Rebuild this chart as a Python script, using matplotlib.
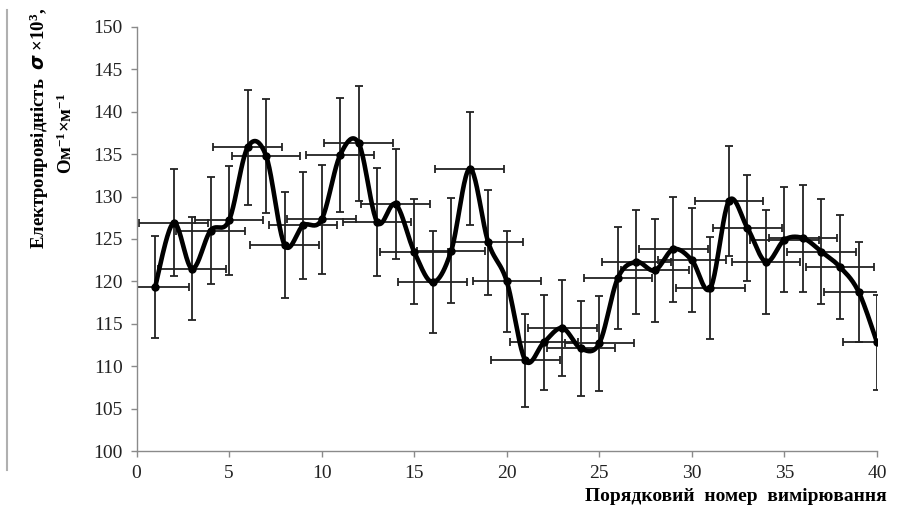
import numpy as np
import matplotlib.pyplot as plt
from matplotlib.lines import Line2D

plt.rcParams['font.family'] = ['Liberation Serif', 'DejaVu Serif']
plt.rcParams['mathtext.fontset'] = 'custom'
plt.rcParams['mathtext.rm'] = 'Liberation Serif'
plt.rcParams['mathtext.it'] = 'Liberation Serif:italic'
plt.rcParams['mathtext.bf'] = 'Liberation Serif:bold'

# порядковий номер вимірювання та електропровідність
n = np.arange(1, 41)
sigma = [119.3, 126.9, 121.5, 126.0, 127.2, 135.8, 134.8, 124.3, 126.6, 127.3,
         134.9, 136.3, 127.0, 129.1, 123.5, 119.9, 123.6, 133.3, 124.6, 120.0,
         110.7, 112.8, 114.5, 112.1, 112.7, 120.4, 122.3, 121.3, 123.8, 122.5,
         119.2, 129.5, 126.3, 122.3, 124.9, 125.1, 123.5, 121.7, 118.8, 112.8]
sigma_err = [6.0, 6.3, 6.1, 6.3, 6.4, 6.8, 6.7, 6.2, 6.3, 6.4,
             6.7, 6.8, 6.4, 6.5, 6.2, 6.0, 6.2, 6.7, 6.2, 6.0,
             5.5, 5.6, 5.7, 5.6, 5.6, 6.0, 6.1, 6.1, 6.2, 6.1,
             6.0, 6.5, 6.3, 6.1, 6.2, 6.3, 6.2, 6.1, 5.9, 5.6]
n_err = 1.85


def smooth_line(x, y, steps=24):
    # згладжена лінія як в Excel (Безьє через сусідні точки)
    p = np.column_stack([x, y]).astype(float)
    ext = np.vstack([p[0], p, p[-1]])
    t = np.linspace(0, 1, steps)[:, None]
    out = []
    for i in range(len(p) - 1):
        p0, p1, p2, p3 = ext[i], ext[i + 1], ext[i + 2], ext[i + 3]
        b1 = p1 + (p2 - p0) / 6
        b2 = p2 - (p3 - p1) / 6
        seg = ((1 - t) ** 3) * p1 + 3 * ((1 - t) ** 2) * t * b1 + 3 * (1 - t) * t ** 2 * b2 + t ** 3 * p2
        out.append(seg)
    out = np.vstack(out)
    return out[:, 0], out[:, 1]


fig = plt.figure(figsize=(9.01, 5.22), dpi=100)
ax = fig.add_axes([0.1515, 0.136, 0.8219, 0.8123])

ax.errorbar(n, sigma, yerr=sigma_err, xerr=n_err, fmt='none', ecolor='#222222',
            elinewidth=1.3, capsize=2.6, capthick=1.3, zorder=2)
sx, sy = smooth_line(n, sigma)
ax.plot(sx, sy, color='black', lw=3.3, solid_capstyle='round', zorder=3)
ax.plot(n, sigma, 'o', color='black', ms=5, zorder=4)

ax.set_xlim(0, 40)
ax.set_ylim(100, 150)
ax.set_xticks(range(0, 41, 5))
ax.set_yticks(range(100, 151, 5))
for s in ['top', 'right']:
    ax.spines[s].set_visible(False)
for s in ['left', 'bottom']:
    ax.spines[s].set_color('#8a8a8a')
    ax.spines[s].set_linewidth(1.0)
ax.tick_params(direction='out', length=4, width=1, color='#8a8a8a',
               labelsize=14, labelcolor='#222222', pad=6)

fig.text(0.044, 0.755, 'Електропровідність  $\\boldsymbol{\\sigma}$ ×$\\mathbf{10^3}$,',
         rotation=90, ha='center', va='center', fontsize=13.5, fontweight='bold')
fig.text(0.074, 0.745, 'Ом$\\mathbf{^{-1}}$×м$\\mathbf{^{-1}}$',
         rotation=90, ha='center', va='center', fontsize=13.5, fontweight='bold')
fig.text(0.984, 0.048, 'Порядковий  номер  вимірювання', ha='right', va='center',
         fontsize=14, fontweight='bold')

fig.add_artist(Line2D([0.008, 0.008], [0.1, 0.98], transform=fig.transFigure,
                      color='#b0b0b0', lw=1.5))

fig.savefig('out.png', dpi=100)
